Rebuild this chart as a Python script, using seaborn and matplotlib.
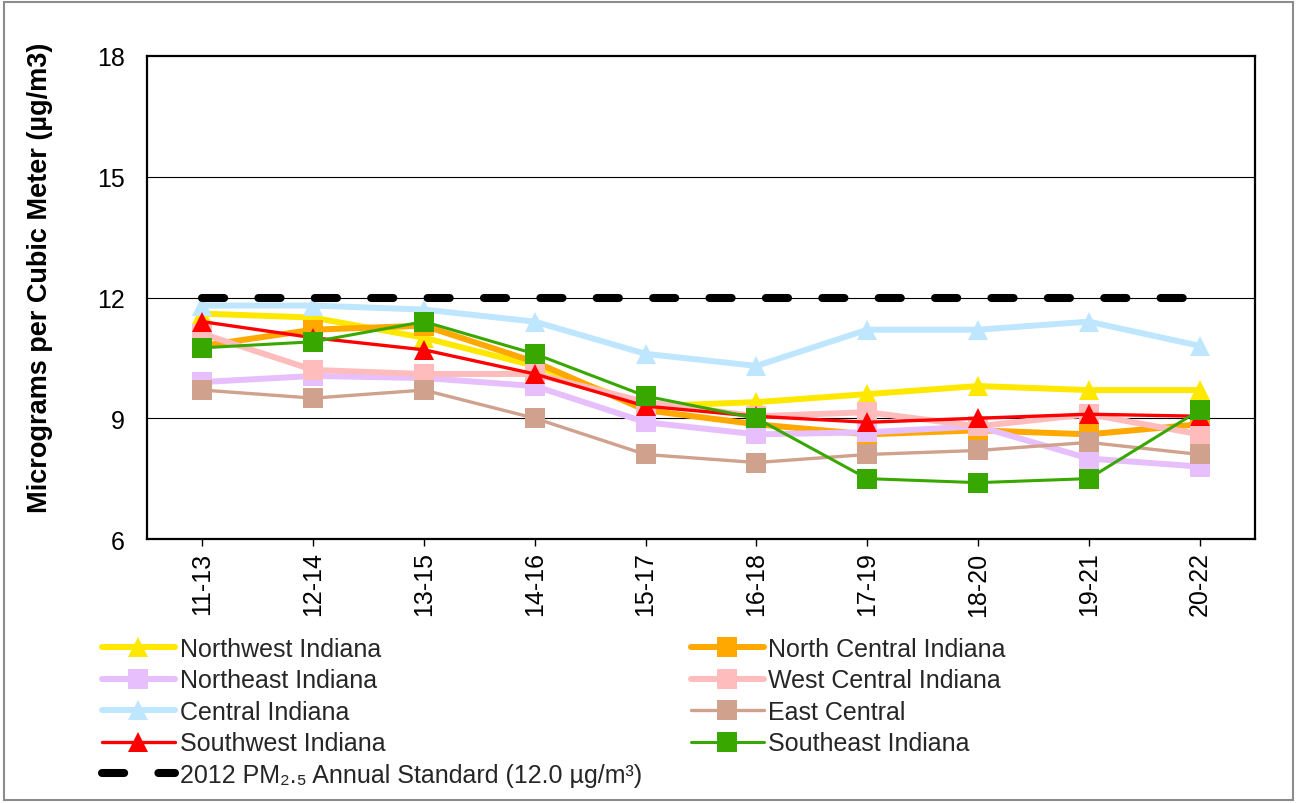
import numpy as np
import pandas as pd
import matplotlib
matplotlib.use("Agg")
import matplotlib.pyplot as plt
from matplotlib.patches import Rectangle
import seaborn as sns

# ---------- data (3-year design values, ug/m3) ----------
periods = ["11-13", "12-14", "13-15", "14-16", "15-17",
           "16-18", "17-19", "18-20", "19-21", "20-22"]
northwest = [11.6, 11.5, 11.0, 10.3, 9.3, 9.4, 9.6, 9.8, 9.7, 9.7]
north_central = [10.8, 11.2, 11.3, 10.4, 9.2, 8.85, 8.6, 8.7, 8.6, 8.85]
northeast = [9.9, 10.05, 10.0, 9.8, 8.9, 8.6, 8.65, 8.8, 8.0, 7.8]
west_central = [11.1, 10.2, 10.1, 10.1, 9.4, 9.05, 9.15, 8.8, 9.1, 8.6]
central = [11.8, 11.8, 11.7, 11.4, 10.6, 10.3, 11.2, 11.2, 11.4, 10.8]
east_central = [9.7, 9.5, 9.7, 9.0, 8.1, 7.9, 8.1, 8.2, 8.4, 8.1]
southwest = [11.4, 11.0, 10.7, 10.1, 9.3, 9.05, 8.9, 9.0, 9.1, 9.05]
southeast = [10.75, 10.9, 11.4, 10.6, 9.55, 9.0, 7.5, 7.4, 7.5, 9.2]
standard = [12.0] * len(periods)

# (label, values, color, marker, linewidth)
series = [
    ("Northwest Indiana", northwest, "#FFE800", "^", 4.3),
    ("North Central Indiana", north_central, "#FFA800", "s", 4.3),
    ("Northeast Indiana", northeast, "#E6BFFC", "s", 4.3),
    ("West Central Indiana", west_central, "#FFBCBC", "s", 4.3),
    ("Central Indiana", central, "#BFE6FF", "^", 4.3),
    ("East Central", east_central, "#D0A18D", "s", 2.4),
    ("Southwest Indiana", southwest, "#FF0000", "^", 2.4),
    ("Southeast Indiana", southeast, "#38A800", "s", 2.2),
]

sns.set_theme(style="white")
plt.rcParams["font.family"] = ["Liberation Sans", "DejaVu Sans"]

W, H = 1297, 804
fig = plt.figure(figsize=(W / 100, H / 100), dpi=100)
ax = fig.add_axes([147 / W, 1 - 540 / H, 1108 / W, 483 / H])

x = np.arange(len(periods))
handles = {}
for label, vals, color, marker, lw in series:
    df = pd.DataFrame({"x": x, "y": vals})
    sns.lineplot(data=df, x="x", y="y", ax=ax, color=color, lw=lw,
                 marker=marker, markersize=14, markeredgewidth=0,
                 label=label, legend=False, zorder=3)
    handles[label] = ax.lines[-1]

std_label = "2012 PM\u2082.\u2085 Annual Standard (12.0 \u00b5g/m\u00b3)"
sns.lineplot(x=x, y=standard, ax=ax, color="black", lw=5.8,
             dashes=False, legend=False, zorder=4)
std_line = ax.lines[-1]
std_line.set_dashes((2.75, 4.25))
std_line.set_dash_capstyle("round")
std_line.set_label(std_label)
handles[std_label] = std_line

# ---------- axes ----------
ax.set_xlim(-0.5, len(periods) - 0.5)
ax.set_ylim(6, 18)
ax.set_yticks([6, 9, 12, 15, 18])
ax.set_xticks(x)
ax.set_xticklabels(periods, rotation=90)
ax.grid(False)
for yv in [9, 12, 15]:
    ax.axhline(yv, color="black", lw=0.8, zorder=1)
for sp in ax.spines.values():
    sp.set_color("black")
    sp.set_linewidth(1.6)
ax.tick_params(axis="y", length=0, pad=16, labelsize=18, colors="black")
ax.tick_params(axis="x", length=5, width=1, direction="out", bottom=True,
               pad=4, labelsize=18, colors="black")
ax.set_xlabel("")
ax.set_ylabel("Micrograms per Cubic Meter (\u00b5g/m3)", fontsize=19.5,
              fontweight="bold", color="black")
ax.yaxis.set_label_coords(-0.085, 0.543)

# ---------- legend (two blocks below the plot) ----------
left = ["Northwest Indiana", "Northeast Indiana", "Central Indiana",
        "Southwest Indiana", std_label]
right = ["North Central Indiana", "West Central Indiana", "East Central",
         "Southeast Indiana"]
common = dict(loc="upper left", frameon=False, fontsize=18, handlelength=2.9,
              handletextpad=0.2, labelspacing=0.3, borderpad=0,
              borderaxespad=0, numpoints=1)
leg1 = fig.legend([handles[k] for k in left], left,
                  bbox_to_anchor=(102 / W, 1 - 638 / H), **common)
leg2 = fig.legend([handles[k] for k in right], right,
                  bbox_to_anchor=(691 / W, 1 - 638 / H), **common)

# outer frame
fig.patches.append(Rectangle((0.003, 0.004), 0.994, 0.992,
                             transform=fig.transFigure, fill=False,
                             edgecolor="#8c8c8c", lw=1.5))

fig.savefig("out.png", dpi=100)
